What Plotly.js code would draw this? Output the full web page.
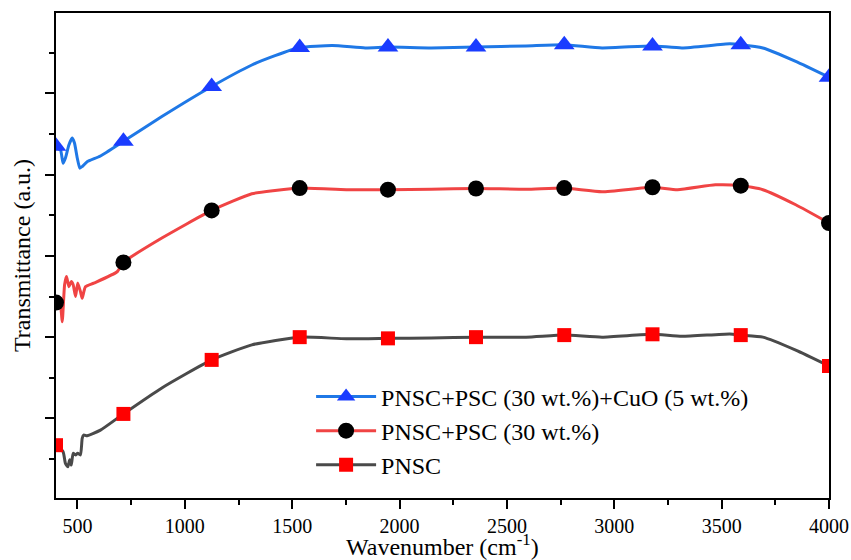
<!DOCTYPE html>
<html>
<head>
<meta charset="utf-8">
<script src="https://cdn.plot.ly/plotly-3.0.1.min.js"></script>
<style>html,body{margin:0;padding:0;background:#fff;}#chart{width:851px;height:560px;}</style>
</head>
<body>
<div id="chart"></div>
<script>
// Series names
const seriesNames = ["PNSC+PSC (30 wt.%)+CuO (5 wt.%)", "PNSC+PSC (30 wt.%)", "PNSC"];
const xTitle = "Wavenumber (cm<sup>-1</sup>)";
const yTitle = "Transmittance (a.u.)";

// Wavenumbers where symbols are shown
const markerWavenumbers = [400, 714, 1125, 1535, 1946, 2356, 2767, 3178, 3589, 4000];

// PNSC+PSC (30 wt.%)+CuO (5 wt.%)
const cuoX = [400, 406, 421, 433, 444, 460, 475, 486, 499, 511, 522, 545, 607, 714, 893, 1125, 1312, 1420, 1535, 1687, 1840, 1946, 2147, 2356, 2589, 2767, 2943, 3178, 3315, 3538, 3589, 3692, 3845, 4000];
const cuoY = [87.0, 86.5, 86.1, 82.8, 84.1, 87.3, 89.0, 87.8, 84.1, 81.6, 82.0, 83.2, 84.6, 88.2, 94.3, 101.7, 107.0, 109.3, 111.3, 111.8, 111.2, 111.4, 111.2, 111.4, 111.7, 112.0, 111.2, 111.7, 111.2, 112.2, 112.0, 111.2, 107.9, 104.0];

// PNSC+PSC (30 wt.%)
const pscX = [400, 421, 429, 440, 449, 460, 471, 480, 491, 501, 514, 522, 537, 576, 685, 714, 893, 1125, 1312, 1420, 1535, 1752, 1946, 2147, 2356, 2589, 2767, 2943, 3178, 3295, 3471, 3589, 3692, 3845, 4000];
const pscY = [48.5, 47.5, 43.8, 52.9, 54.9, 52.4, 53.7, 52.9, 50.0, 53.3, 51.2, 49.6, 52.4, 53.3, 56.1, 58.4, 64.4, 71.2, 75.3, 76.1, 76.7, 76.3, 76.3, 76.4, 76.6, 76.4, 76.7, 75.8, 76.9, 76.3, 77.5, 77.3, 76.3, 72.6, 68.1];

// PNSC
const pnscX = [400, 433, 444, 455, 464, 471, 480, 491, 501, 514, 522, 529, 545, 607, 714, 893, 1125, 1312, 1535, 1752, 1946, 2147, 2356, 2589, 2767, 2943, 3178, 3315, 3538, 3589, 3692, 3845, 4000];
const pnscY = [13.4, 11.8, 8.9, 8.1, 9.8, 8.5, 11.4, 11.0, 11.4, 11.0, 15.1, 15.9, 15.7, 17.1, 21.1, 27.5, 34.4, 38.1, 40.0, 39.6, 39.7, 39.8, 40.0, 40.0, 40.5, 40.0, 40.7, 40.2, 40.8, 40.5, 40.0, 36.8, 32.9];

function sizes(xs, s) {
  return xs.map(v => markerWavenumbers.includes(v) ? s : 0);
}

const FONT = "Liberation Serif, Times New Roman, serif";

const styles = [
  {line: {color: "#1f78e6", width: 3}, symbol: "triangle-up", mcolor: "#1a3cff", size: 18},
  {line: {color: "#f04444", width: 3}, symbol: "circle", mcolor: "#000000", size: 16},
  {line: {color: "#4a4a4a", width: 3}, symbol: "square", mcolor: "#ff0000", size: 14}
];
const xs = [cuoX, pscX, pnscX];
const ys = [cuoY, pscY, pnscY];

const traces = [];
for (let i = 0; i < 3; i++) {
  traces.push({
    x: xs[i], y: ys[i], name: seriesNames[i], type: "scatter", mode: "lines+markers",
    showlegend: false, legendgroup: "g" + i,
    line: Object.assign({shape: "spline", smoothing: 0.5}, styles[i].line),
    marker: {symbol: styles[i].symbol, color: styles[i].mcolor, opacity: 1,
             size: sizes(xs[i], styles[i].size), line: {width: 0}}
  });
}
for (let i = 0; i < 3; i++) {
  traces.push({
    x: [null], y: [null], name: seriesNames[i], type: "scatter", mode: "lines+markers",
    showlegend: true, legendgroup: "g" + i,
    line: styles[i].line,
    marker: {symbol: styles[i].symbol, color: styles[i].mcolor, opacity: 1,
             size: Math.min(styles[i].size, 16), line: {width: 0}}
  });
}

const layout = {
  width: 851, height: 560,
  margin: {l: 56, r: 22, t: 13, b: 62},
  paper_bgcolor: "#ffffff", plot_bgcolor: "#ffffff",
  font: {family: FONT, color: "#000000", size: 20},
  showlegend: true,
  legend: {
    x: 0.33, y: 0.255, xanchor: "left", yanchor: "top",
    bgcolor: "rgba(0,0,0,0)", borderwidth: 0,
    font: {family: FONT, size: 24, color: "#000000"},
    itemsizing: "trace", itemwidth: 60, tracegroupgap: 0
  },
  xaxis: {
    range: [400, 4000], showgrid: false, zeroline: false,
    showline: true, linecolor: "#000", linewidth: 2, mirror: true,
    ticks: "outside", ticklen: 9, tickwidth: 2, tickcolor: "#000",
    tick0: 0, dtick: 500,
    minor: {ticks: "outside", ticklen: 5, tickwidth: 2, tickcolor: "#000", dtick: 250, tick0: 0, showgrid: false},
    tickfont: {family: FONT, size: 20, color: "#000"},
    automargin: false
  },
  yaxis: {
    range: [0.4, 119.8], showgrid: false, zeroline: false,
    showline: true, linecolor: "#000", linewidth: 2, mirror: true,
    ticks: "outside", ticklen: 9, tickwidth: 2, tickcolor: "#000",
    tick0: 0, dtick: 20, showticklabels: false,
    minor: {ticks: "outside", ticklen: 5, tickwidth: 2, tickcolor: "#000", dtick: 10, tick0: 0, showgrid: false},
    title: {text: yTitle, font: {family: FONT, size: 24, color: "#000"}, standoff: 8},
    automargin: false
  },
  annotations: [{
    text: xTitle, xref: "paper", yref: "paper", x: 0.5, y: 0,
    xanchor: "center", yanchor: "middle", yshift: -47, showarrow: false,
    font: {family: FONT, size: 24, color: "#000"}
  }]
};

Plotly.newPlot("chart", traces, layout, {displayModeBar: false, staticPlot: true});
</script>
</body>
</html>
